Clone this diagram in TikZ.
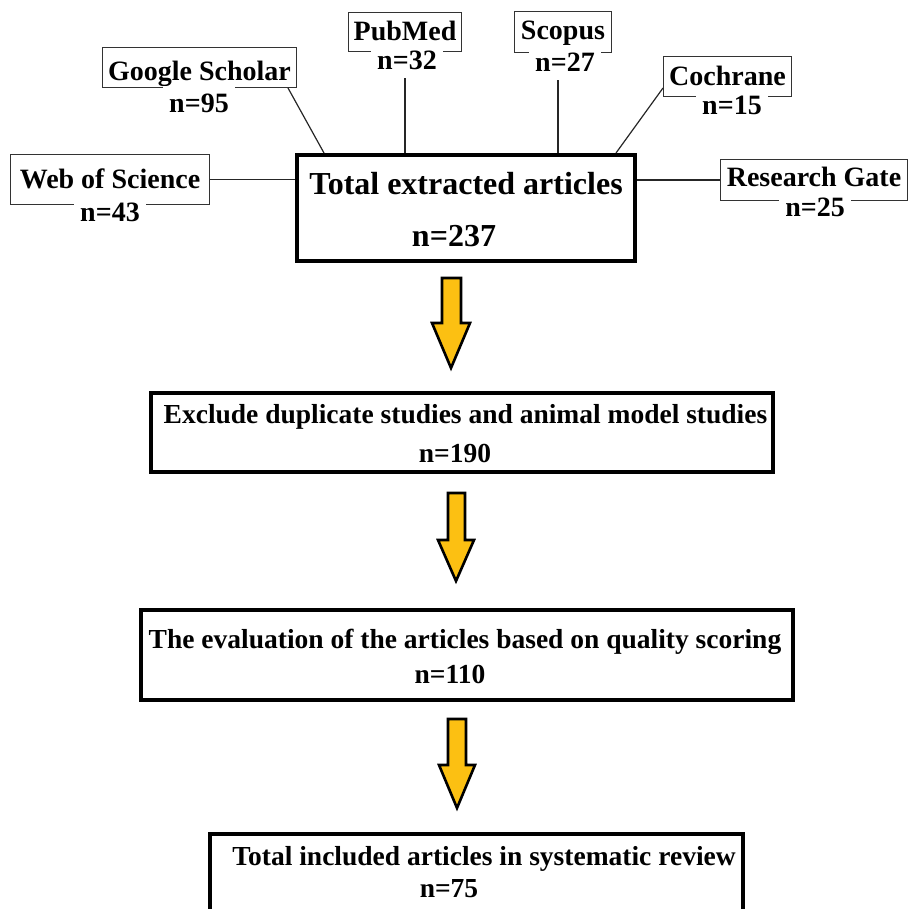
\documentclass[tikz,border=0pt]{standalone}
\usepackage{fontspec}
\setmainfont{Liberation Serif}
\usetikzlibrary{calc}
\definecolor{arrowyellow}{RGB}{252,192,18}
\begin{document}
\begin{tikzpicture}[x=1pt,y=-1pt,
  srcbox/.style={draw=black!80, line width=1pt, inner xsep=0pt, inner ysep=0pt, anchor=north west,
    font=\fontsize{28}{30}\selectfont\bfseries},
  cnt/.style={fill=white, inner xsep=6pt, inner ysep=0pt, text depth=0pt, anchor=north,
    font=\fontsize{28}{30}\selectfont\bfseries},
  bigbox/.style={draw=black, line width=4pt, inner sep=0pt, anchor=north west},
  bigtxt/.style={anchor=base, inner sep=0pt, font=\fontsize{32}{34}\selectfont\bfseries},
  boxtxt/.style={anchor=base, inner sep=0pt, font=\fontsize{27.5}{30}\selectfont\bfseries},
  link/.style={draw=black!85, line width=1.2pt},
  blockarrow/.style={draw=black, line width=2.6pt, fill=arrowyellow, line join=miter}
]
\useasboundingbox (0,0) rectangle (909,909);

% main box
\node[bigbox, minimum width=338pt, minimum height=106pt] (main) at (295,153) {};
\node[bigtxt] (mainT) at (466,195) {Total extracted articles};
\node[bigtxt] (mainN) at (454,246) {n=237};

% sources
\node[srcbox, minimum width=194pt, text height=33pt, text depth=7pt] (gs) at (102,47) {Google Scholar};
\node[cnt, text height=26.5pt] (gsn) at (199,85.5) {n=95};

\node[srcbox, minimum width=113pt, text height=28pt, text depth=11pt] (pm) at (348,12) {PubMed};
\node[cnt, text height=19.5pt] (pmn) at (407,49.5) {n=32};

\node[srcbox, minimum width=97pt, text height=28pt, text depth=13pt] (sc) at (514,11) {Scopus};
\node[cnt, text height=20.5pt] (scn) at (565,50.5) {n=27};

\node[srcbox, minimum width=128pt, text height=29pt, text depth=11pt] (co) at (663,56) {Cochrane};
\node[cnt, text height=19.5pt] (con) at (732,94.5) {n=15};

\node[srcbox, minimum width=199pt, text height=34pt, text depth=16pt] (wos) at (10,154) {Web of Science};
\node[cnt, text height=18.5pt] (wosn) at (110,202.5) {n=43};

\node[srcbox, minimum width=187pt, text height=27pt, text depth=14pt] (rg) at (720,159) {Research Gate};
\node[cnt, text height=17.5pt] (rgn) at (815,198.5) {n=25};

% connectors to main box
\draw[link] ($(gs.south east)+(-9,0)$) -- ($(main.north west)+(29,0)$);
\coordinate (pmtop) at ($(pmn.south)+(-2,9)$);
\draw[link] (pmtop) -- (pmtop |- main.north);
\coordinate (sctop) at ($(scn.south)+(-7,9)$);
\draw[link] (sctop) -- (sctop |- main.north);
\draw[link] ($(co.south west)+(0,-9)$) -- ($(main.north east)+(-21,0)$);
\draw[link] (wos.east) -- (wos.east -| main.west);
\draw[link] (rg.west) -- (rg.west -| main.east);

% stage boxes
\node[bigbox, minimum width=622pt, minimum height=79pt] (ex) at (149,391) {};
\node[boxtxt] (exT) at (465.5,423) {Exclude duplicate studies and animal model studies};
\node[boxtxt] (exN) at (455,462) {n=190};

\node[bigbox, minimum width=652pt, minimum height=90pt] (ev) at (139,608) {};
\node[boxtxt] (evT) at (465,648) {The evaluation of the articles based on quality scoring};
\node[boxtxt] (evN) at (450,683) {n=110};

\node[bigbox, minimum width=533pt, minimum height=100pt] (fin) at (208,832) {};
\node[boxtxt] (finT) at (484,865) {Total included articles in systematic review};
\node[boxtxt] (finN) at (449,897) {n=75};

% block arrows
\draw[blockarrow] (442,278) -- (461,278) -- (461,323) -- (470,323) -- (451,368) -- (432,323) -- (442,323) -- cycle;
\draw[blockarrow] (448,493) -- (465,493) -- (465,540) -- (474,540) -- (456,581) -- (438,540) -- (448,540) -- cycle;
\draw[blockarrow] (448,719) -- (466,719) -- (466,765) -- (475,765) -- (457,808) -- (439,765) -- (448,765) -- cycle;
\end{tikzpicture}
\end{document}
